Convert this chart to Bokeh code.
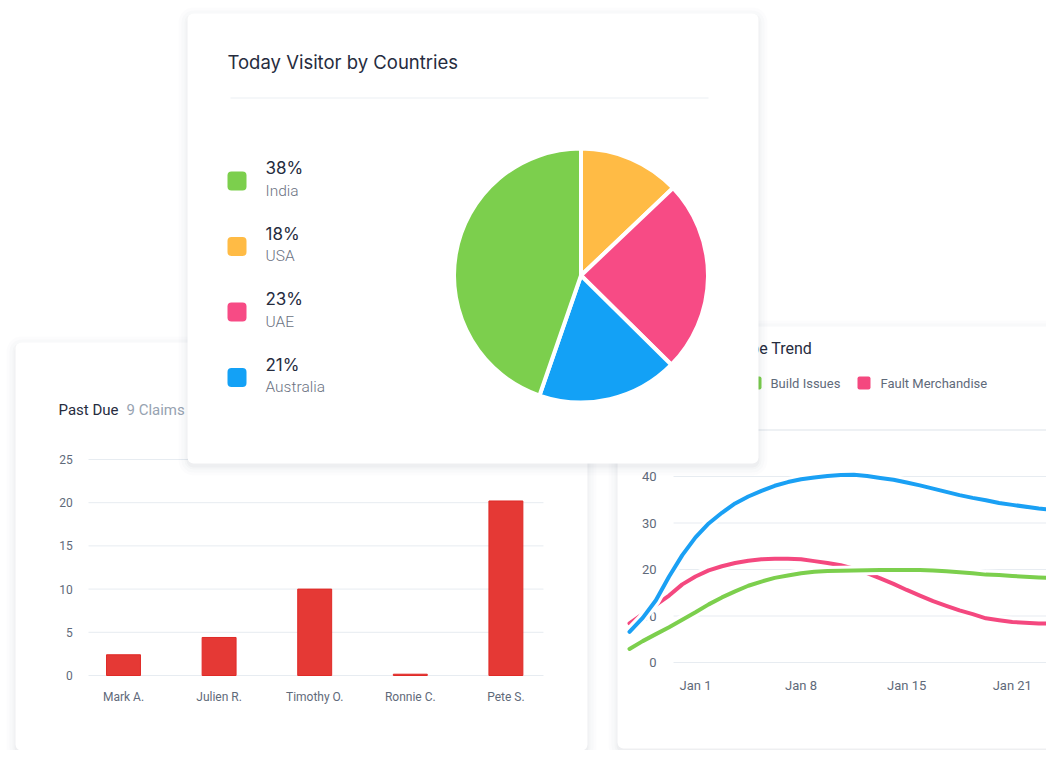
import math
from bokeh.plotting import figure
from bokeh.models import Range1d
from bokeh.core.properties import value
from bokeh.embed import file_html
from bokeh.resources import INLINE

# ---------------- data ----------------
countries = ["India", "USA", "UAE", "Australia"]
country_pct_labels = ["38%", "18%", "23%", "21%"]
country_colors = ["#7ccf4d", "#ffbb45", "#f74b85", "#13a1f6"]
# slice sizes as drawn (percent of the circle), clockwise from 12 o'clock
slice_order = ["USA", "UAE", "Australia", "India"]
slice_share = [12.9, 24.5, 17.9, 44.7]

claim_people = ["Mark A.", "Julien R.", "Timothy O.", "Ronnie C.", "Pete S."]
claim_counts = [2.4, 4.4, 10.0, 0.15, 20.2]
claim_ticks = [0, 5, 10, 15, 20, 25]

trend_dates = ["Jan 1", "Jan 8", "Jan 15", "Jan 21"]
trend_ticks = [0, 10, 20, 30, 40]
trend_x = [-0.625, -0.5, -0.375, -0.25, -0.125,
           0.0, 0.125, 0.25, 0.375, 0.5, 0.625, 0.75, 0.875, 1.0, 1.125, 1.25, 1.375,
           1.5, 1.625, 1.75, 1.875, 2.0, 2.125, 2.25, 2.375, 2.5, 2.625, 2.75, 2.875, 3.0,
           3.25, 3.5]
trend_blue = [6.6, 9.6, 13.4, 18.5, 23.1,
              26.9, 29.9, 32.2, 34.2, 35.7, 36.9, 38.0, 38.8, 39.4, 39.8, 40.1, 40.3,
              40.4, 40.1, 39.7, 39.3, 38.7, 38.1, 37.4, 36.7, 36.0, 35.4, 34.9, 34.3, 33.9,
              33.1, 32.6]
trend_build = [2.9, 4.6, 6.1, 7.6, 9.2,
               10.8, 12.5, 14.0, 15.3, 16.5, 17.4, 18.2, 18.7, 19.2, 19.5, 19.7, 19.75,
               19.8, 19.85, 19.9, 19.9, 19.9, 19.9, 19.8, 19.6, 19.4, 19.2, 18.9, 18.8, 18.6,
               18.3, 18.1]
trend_fault = [8.4, 10.4, 12.4, 14.4, 16.8,
               18.5, 19.8, 20.7, 21.4, 21.9, 22.2, 22.3, 22.3, 22.2, 21.8, 21.4, 20.9,
               20.2, 19.2, 18.1, 16.9, 15.6, 14.4, 13.2, 12.2, 11.2, 10.4, 9.5, 9.1, 8.7,
               8.4, 8.4]
trend_names = ["Build Issues", "Fault Merchandise"]
trend_colors = {"blue": "#1aa0f4", "build": "#7ccf4d", "fault": "#f4487f"}

# ---------------- styles ----------------
ROBOTO = value("Roboto")
ROBOTO_LIGHT = value("Roboto Light")
HEAD = value("Inter")
DARK = "#262c3e"
TICK = "#5f6a7a"

p = figure(width=1046, height=750, x_range=Range1d(0, 1046), y_range=Range1d(750, 0),
           output_backend="svg", toolbar_location=None, min_border=0,
           x_axis_location=None, y_axis_location=None)
p.grid.visible = False
p.outline_line_color = None
p.background_fill_color = "white"
p.border_fill_color = "white"


def card(l, t, r, b):
    for k, a in ((9, 0.010), (6, 0.014), (3, 0.020), (1, 0.028)):
        p.quad(left=l - k, right=r + k, top=t - k + 3, bottom=b + k + 3,
               fill_color="#1e2a3a", fill_alpha=a, line_color=None, border_radius=6 + k)
    p.quad(left=l, right=r, top=t, bottom=b, fill_color="white", line_color=None, border_radius=6)


# ================= bar card =================
card(15, 342, 587, 750)
p.text(x=[58], y=[409], text=["Past Due"], text_font=ROBOTO, text_font_size="15px",
       text_color=DARK, text_baseline="middle")
p.text(x=[126], y=[409], text=["9 Claims"], text_font=ROBOTO, text_font_size="15px",
       text_color="#97a3b1", text_baseline="middle")

bsub = p.subplot(x_source=Range1d(-0.5, 4.5), y_source=Range1d(0, 25),
                 x_target=Range1d(75.2, 553.2), y_target=Range1d(675, 459))
bsub.segment(x0=-0.366, x1=4.393, y0=claim_ticks, y1=claim_ticks,
             line_color="#e7ecf1", line_width=1)
bsub.text(x=[-0.5] * len(claim_ticks), y=claim_ticks, text=[str(t) for t in claim_ticks],
          x_offset=-3, text_align="right", text_baseline="middle",
          text_font=ROBOTO, text_font_size="12px", text_color=TICK)
bsub.vbar(x=list(range(len(claim_people))), top=claim_counts, bottom=0, width=0.355,
          fill_color="#e53935", line_color="#e02a27", line_width=1)
bsub.text(x=list(range(len(claim_people))), y=[0] * len(claim_people), text=claim_people,
          y_offset=21, text_align="center", text_baseline="middle",
          text_font=ROBOTO, text_font_size="12px", text_color=TICK)

# ================= line card =================
card(617, 326, 1070, 748)
p.text(x=[812], y=[348], text=["Complaint Type Trend"], text_font=ROBOTO, text_font_size="16px",
       text_color=DARK, text_baseline="middle", text_align="right")
p.quad(left=748, right=761, top=376, bottom=389, fill_color=trend_colors["build"],
       line_color=None, border_radius=2)
p.text(x=[770], y=[383], text=[trend_names[0]], text_font=ROBOTO, text_font_size="13px",
       text_color=TICK, text_baseline="middle")
p.quad(left=857, right=870, top=376, bottom=389, fill_color=trend_colors["fault"],
       line_color=None, border_radius=2)
p.text(x=[880], y=[383], text=[trend_names[1]], text_font=ROBOTO, text_font_size="13px",
       text_color=TICK, text_baseline="middle")
p.segment(x0=[640], x1=[1060], y0=[429.5], y1=[429.5], line_color="#e9edf1", line_width=1.5)

lsub = p.subplot(x_source=Range1d(0, 1), y_source=Range1d(0, 40),
                 x_target=Range1d(695, 800.6), y_target=Range1d(662, 476))
lsub.segment(x0=-0.208, x1=3.7, y0=trend_ticks, y1=trend_ticks,
             line_color="#e7ecf1", line_width=1.2)
lsub.text(x=[-0.208] * len(trend_ticks), y=trend_ticks, text=[str(t) for t in trend_ticks],
          x_offset=-17, text_align="right", text_baseline="middle",
          text_font=ROBOTO, text_font_size="13px", text_color=TICK)
lsub.text(x=list(range(len(trend_dates))), y=[0] * len(trend_dates), text=trend_dates,
          y_offset=23, text_align="center", text_baseline="middle",
          text_font=ROBOTO, text_font_size="13px", text_color=TICK)
for key, ys in (("fault", trend_fault), ("build", trend_build), ("blue", trend_blue)):
    lsub.line(trend_x, ys, line_color="white", line_width=10, line_cap="round", line_join="round")
    lsub.line(trend_x, ys, line_color=trend_colors[key], line_width=4, line_cap="round",
              line_join="round")

# ================= pie card (on top) =================
card(187, 13, 758, 463)
p.text(x=[227], y=[61], text=["Today Visitor by Countries"], text_font=HEAD,
       text_font_size="18.5px", text_color=DARK, text_baseline="middle")
p.segment(x0=[230], x1=[708], y0=[97.5], y1=[97.5], line_color="#eceff3", line_width=1.2)

n = len(countries)
p.quad(left=[227] * n, right=[246] * n, top=[171 + 65.5 * i for i in range(n)],
       bottom=[190 + 65.5 * i for i in range(n)], fill_color=country_colors,
       line_color=None, border_radius=4)
p.text(x=[265] * n, y=[167.5 + 65.5 * i for i in range(n)], text=country_pct_labels,
       text_font=HEAD, text_font_size="17px", text_color=DARK, text_baseline="middle")
p.text(x=[265] * n, y=[190 + 65.5 * i for i in range(n)], text=countries,
       text_font=ROBOTO_LIGHT, text_font_size="15.5px", text_color="#6b7282",
       text_baseline="middle")

starts, ends, cols = [], [], []
angle = math.pi / 2
for name, share in zip(slice_order, slice_share):
    nxt = angle - share / 100.0 * 2 * math.pi
    starts.append(nxt)
    ends.append(angle)
    cols.append(country_colors[countries.index(name)])
    angle = nxt
p.wedge(x=[580.5] * len(starts), y=[275] * len(starts), radius=127, radius_units="screen",
        start_angle=starts, end_angle=ends, fill_color=cols,
        line_color="white", line_width=4)

open("out.html", "w").write(file_html(p, INLINE))
